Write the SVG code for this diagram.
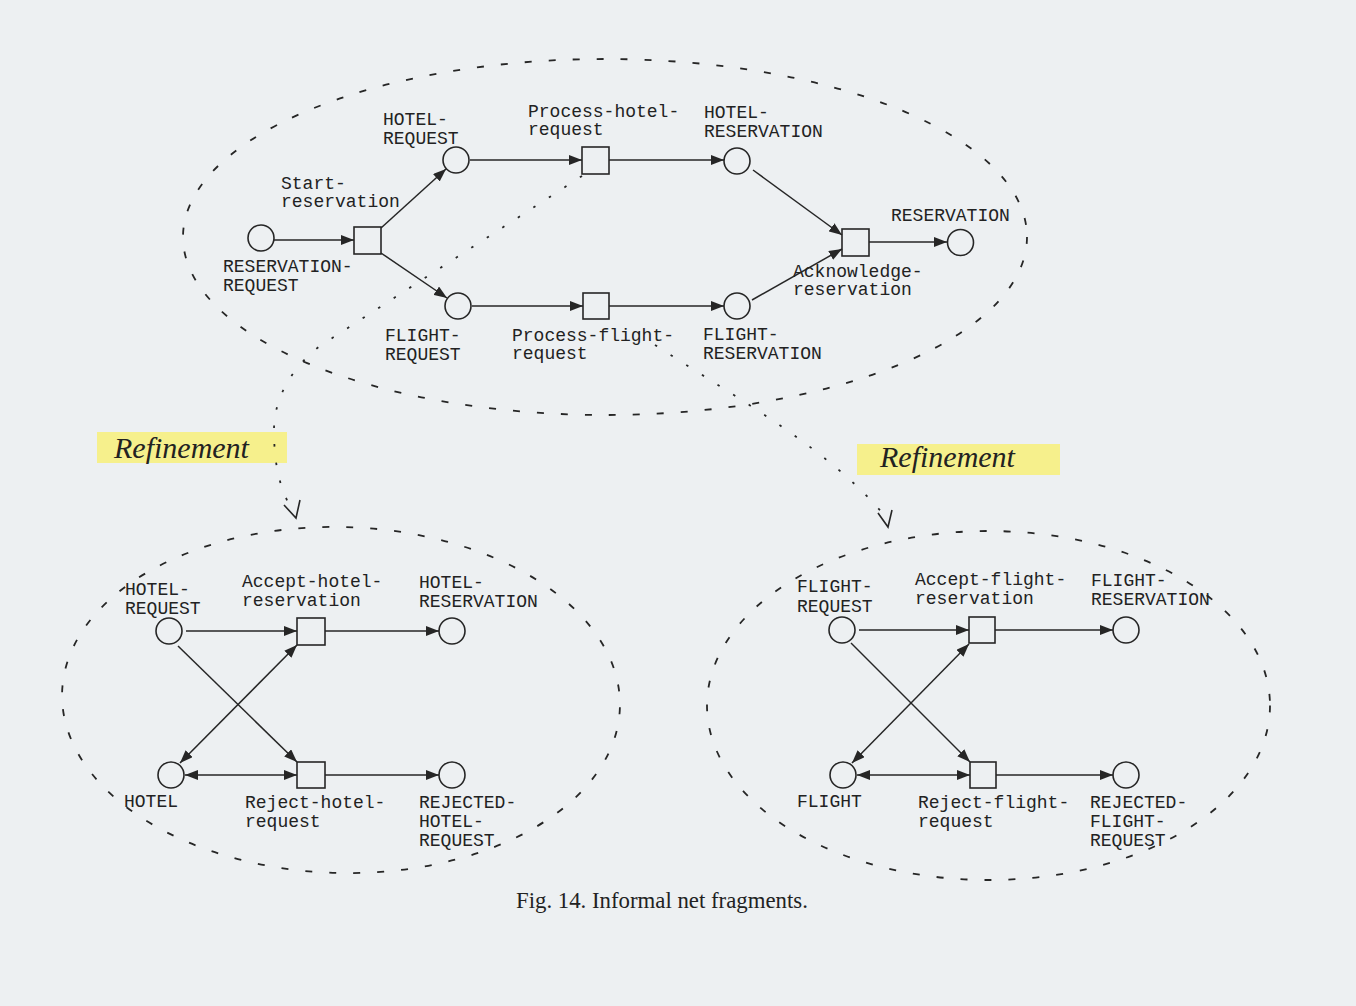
<svg xmlns="http://www.w3.org/2000/svg" width="1356" height="1006" viewBox="0 0 1356 1006">
<defs>
<marker id="ah" viewBox="0 0 13 10" refX="13" refY="5" markerWidth="13" markerHeight="10" markerUnits="userSpaceOnUse" orient="auto-start-reverse">
<path d="M0,0 L13,5 L0,10 z" fill="#262626"/>
</marker>
<style>
.bg{fill:#edf0f2}
.pl{fill:none;stroke:#262626;stroke-width:1.6}
.tr{fill:none;stroke:#262626;stroke-width:1.6}
.arc{fill:none;stroke:#262626;stroke-width:1.5;marker-end:url(#ah)}
.dbl{marker-start:url(#ah)}
.bound{fill:none;stroke:#262626;stroke-width:1.8;stroke-dasharray:7 17}
.refl{fill:none;stroke:#262626;stroke-width:1.8;stroke-dasharray:2.5 16}
.refh{fill:none;stroke:#262626;stroke-width:1.6}
.lb{font-family:"Liberation Mono","DejaVu Sans Mono",monospace;font-size:18px;fill:#222}
.hl{fill:#f6f08c}
.rf{font-family:"Liberation Serif","DejaVu Serif",serif;font-style:italic;font-size:30px;fill:#222}
.cap{font-family:"Liberation Serif","DejaVu Serif",serif;font-size:22.8px;fill:#222}
</style>
</defs>
<rect class="bg" x="0" y="0" width="1356" height="1006"/>

<g id="boundaries">
<ellipse class="bound" cx="605" cy="237" rx="422" ry="178"/>
<ellipse class="bound" cx="341" cy="700" rx="279" ry="173" transform="rotate(1.5 341 700)"/>
<ellipse class="bound" cx="988.5" cy="705.5" rx="281.5" ry="174.5"/>
</g>

<g id="refinement-labels">
<rect class="hl" x="97" y="432" width="190" height="31"/>
<text class="rf" x="114" y="458">Refinement</text>
<rect class="hl" x="857" y="444" width="203" height="31"/>
<text class="rf" x="880" y="467">Refinement</text>
</g>

<g id="connectors">
<path class="arc" d="M274,240 L354,240"/>
<path class="arc" d="M381,228 L446,169"/>
<path class="arc" d="M381,253 L447,298"/>
<path class="arc" d="M470,160 L582,160"/>
<path class="arc" d="M609,160 L724,160"/>
<path class="arc" d="M472,306 L583,306"/>
<path class="arc" d="M609,306 L724,306"/>
<path class="arc" d="M753,170 L842,235"/>
<path class="arc" d="M752,300 L842,249"/>
<path class="arc" d="M869,242 L947,242"/>

<path class="arc" d="M186,631 L297,631"/>
<path class="arc" d="M325,631 L439,631"/>
<path class="arc" d="M178,646 L297,762"/>
<path class="arc dbl" d="M180,763 L297,645"/>
<path class="arc dbl" d="M185,775 L297,775"/>
<path class="arc" d="M325,775 L439,775"/>

<path class="arc" d="M859,630 L969,630"/>
<path class="arc" d="M995,630 L1113,630"/>
<path class="arc" d="M851,643 L970,762"/>
<path class="arc dbl" d="M852,763 L969,644"/>
<path class="arc dbl" d="M857,775 L970,775"/>
<path class="arc" d="M996,775 L1113,775"/>

<path class="refl" d="M582,176 L320,346 C295,365 274,395 274,430 C274,470 282,495 295,514"/>
<path class="refh" d="M284,505 L296,518 L300,500"/>
<path class="refl" d="M655,345 C740,400 830,450 884,515"/>
<path class="refh" d="M878,513 L888,527 L892,510"/>
</g>

<g id="reservation-request"><circle class="pl" cx="261" cy="238" r="13"/><text class="lb" x="223" y="272">RESERVATION-</text><text class="lb" x="223" y="291">REQUEST</text></g>
<g id="start-reservation"><rect class="tr" x="354" y="227" width="27" height="27"/><text class="lb" x="281" y="189">Start-</text><text class="lb" x="281" y="207">reservation</text></g>
<g id="hotel-request"><circle class="pl" cx="456" cy="160" r="13"/><text class="lb" x="383" y="125">HOTEL-</text><text class="lb" x="383" y="144">REQUEST</text></g>
<g id="flight-request"><circle class="pl" cx="458" cy="306" r="13"/><text class="lb" x="385" y="341">FLIGHT-</text><text class="lb" x="385" y="360">REQUEST</text></g>
<g id="process-hotel-request"><rect class="tr" x="582" y="147" width="27" height="27"/><text class="lb" x="528" y="117">Process-hotel-</text><text class="lb" x="528" y="135">request</text></g>
<g id="process-flight-request"><rect class="tr" x="583" y="293" width="26" height="26"/><text class="lb" x="512" y="341">Process-flight-</text><text class="lb" x="512" y="359">request</text></g>
<g id="hotel-reservation"><circle class="pl" cx="737" cy="161" r="13"/><text class="lb" x="704" y="118">HOTEL-</text><text class="lb" x="704" y="137">RESERVATION</text></g>
<g id="flight-reservation"><circle class="pl" cx="737" cy="306" r="13"/><text class="lb" x="703" y="340">FLIGHT-</text><text class="lb" x="703" y="359">RESERVATION</text></g>
<g id="acknowledge-reservation"><rect class="tr" x="842" y="229" width="27" height="27"/><text class="lb" x="793" y="277">Acknowledge-</text><text class="lb" x="793" y="295">reservation</text></g>
<g id="reservation"><circle class="pl" cx="960.5" cy="242.5" r="13"/><text class="lb" x="891" y="221">RESERVATION</text></g>

<g id="h-hotel-request"><circle class="pl" cx="169" cy="631" r="13"/><text class="lb" x="125" y="595">HOTEL-</text><text class="lb" x="125" y="614">REQUEST</text></g>
<g id="accept-hotel-reservation"><rect class="tr" x="297" y="618" width="28" height="27"/><text class="lb" x="242" y="587">Accept-hotel-</text><text class="lb" x="242" y="606">reservation</text></g>
<g id="h-hotel-reservation"><circle class="pl" cx="452" cy="631" r="13"/><text class="lb" x="419" y="588">HOTEL-</text><text class="lb" x="419" y="607">RESERVATION</text></g>
<g id="hotel"><circle class="pl" cx="171" cy="775" r="13"/><text class="lb" x="124" y="807">HOTEL</text></g>
<g id="reject-hotel-request"><rect class="tr" x="297" y="762" width="28" height="26"/><text class="lb" x="245" y="808">Reject-hotel-</text><text class="lb" x="245" y="827">request</text></g>
<g id="rejected-hotel-request"><circle class="pl" cx="452" cy="775" r="13"/><text class="lb" x="419" y="808">REJECTED-</text><text class="lb" x="419" y="827">HOTEL-</text><text class="lb" x="419" y="846">REQUEST</text></g>

<g id="f-flight-request"><circle class="pl" cx="842" cy="630" r="13"/><text class="lb" x="797" y="592">FLIGHT-</text><text class="lb" x="797" y="612">REQUEST</text></g>
<g id="accept-flight-reservation"><rect class="tr" x="969" y="617" width="26" height="26"/><text class="lb" x="915" y="585">Accept-flight-</text><text class="lb" x="915" y="604">reservation</text></g>
<g id="f-flight-reservation"><circle class="pl" cx="1126" cy="630" r="13"/><text class="lb" x="1091" y="586">FLIGHT-</text><text class="lb" x="1091" y="605">RESERVATION</text></g>
<g id="flight"><circle class="pl" cx="843" cy="775" r="13"/><text class="lb" x="797" y="807">FLIGHT</text></g>
<g id="reject-flight-request"><rect class="tr" x="970" y="762" width="26" height="26"/><text class="lb" x="918" y="808">Reject-flight-</text><text class="lb" x="918" y="827">request</text></g>
<g id="rejected-flight-request"><circle class="pl" cx="1126" cy="775" r="13"/><text class="lb" x="1090" y="808">REJECTED-</text><text class="lb" x="1090" y="827">FLIGHT-</text><text class="lb" x="1090" y="846">REQUEST</text></g>

<text class="cap" x="516" y="908">Fig. 14. Informal net fragments.</text>
</svg>
